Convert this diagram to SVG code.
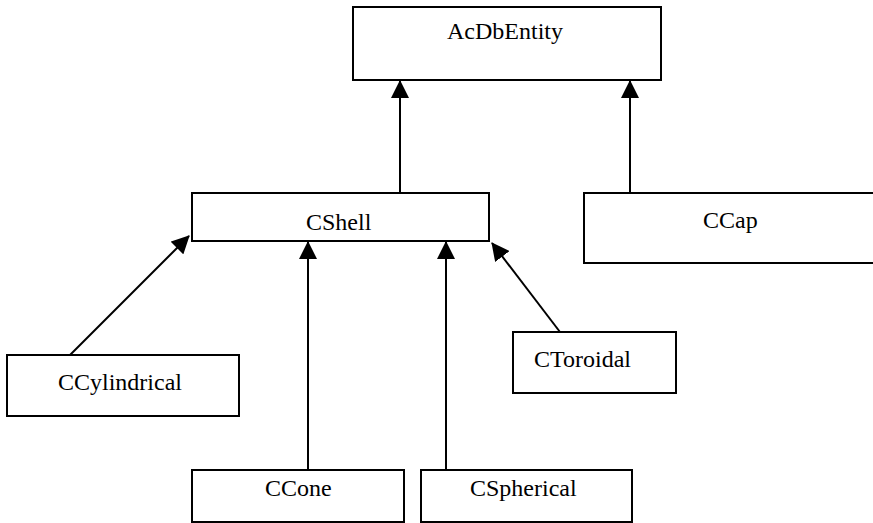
<svg xmlns="http://www.w3.org/2000/svg" width="873" height="523" viewBox="0 0 873 523">
  <style>
    .box { fill: #ffffff; stroke: #000000; stroke-width: 2; }
    .label { font-family: "Liberation Serif", "Times New Roman", serif; font-size: 24px; fill: #000000; }
    .edge { stroke: #000000; stroke-width: 2; fill: none; marker-end: url(#arrow); }
  </style>
  <defs>
    <marker id="arrow" markerUnits="userSpaceOnUse" markerWidth="18" markerHeight="18" viewBox="0 0 18 18" refX="17" refY="9" orient="auto">
      <path d="M0,0 L18,9 L0,18 Z" fill="#000000"/>
    </marker>
  </defs>
  <rect width="873" height="523" fill="#ffffff"/>

  <g id="connectors">
    <line class="edge" x1="400" y1="193" x2="400" y2="81"/>
    <line class="edge" x1="630" y1="193" x2="630" y2="81"/>
    <line class="edge" x1="70" y1="355" x2="189" y2="236"/>
    <line class="edge" x1="308" y1="470" x2="308" y2="242"/>
    <line class="edge" x1="446" y1="470" x2="446" y2="242"/>
    <line class="edge" x1="560" y1="332" x2="492" y2="243"/>
  </g>

  <g id="AcDbEntity">
    <rect class="box" x="353" y="7" width="308" height="73"/>
    <text class="label" x="447" y="39">AcDbEntity</text>
  </g>
  <g id="CShell">
    <rect class="box" x="192" y="193" width="297" height="48"/>
    <text class="label" x="306" y="230">CShell</text>
  </g>
  <g id="CCap">
    <rect class="box" x="584" y="193" width="300" height="70"/>
    <text class="label" x="703" y="228">CCap</text>
  </g>
  <g id="CCylindrical">
    <rect class="box" x="7" y="355" width="232" height="61"/>
    <text class="label" x="58" y="390">CCylindrical</text>
  </g>
  <g id="CToroidal">
    <rect class="box" x="513" y="332" width="163" height="61"/>
    <text class="label" x="534" y="367">CToroidal</text>
  </g>
  <g id="CCone">
    <rect class="box" x="192" y="470" width="212" height="52"/>
    <text class="label" x="265" y="496">CCone</text>
  </g>
  <g id="CSpherical">
    <rect class="box" x="421" y="470" width="211" height="52"/>
    <text class="label" x="470" y="496">CSpherical</text>
  </g>
</svg>
